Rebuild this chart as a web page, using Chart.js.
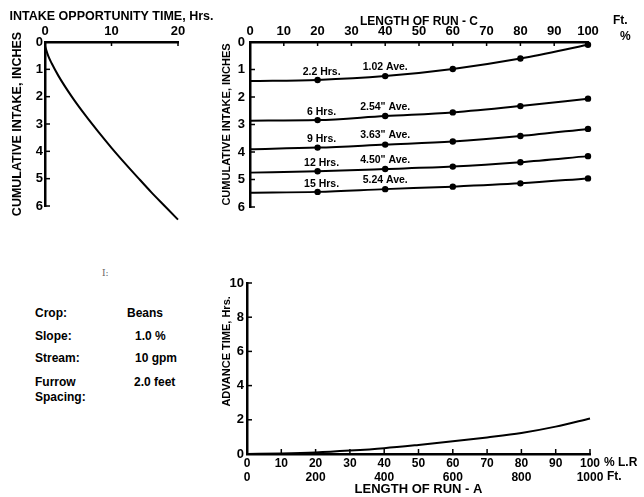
<!DOCTYPE html>
<html>
<head>
<meta charset="utf-8">
<script src="https://cdn.jsdelivr.net/npm/chart.js@4.4.0/dist/chart.umd.min.js"></script>
<style>
body { margin: 0; background: #fff; width: 644px; height: 497px; position: relative; overflow: hidden;
       font-family: "Liberation Sans", Arial, sans-serif; font-weight: bold; color: #000; }
canvas { position: absolute; }
.t { position: absolute; font-size: 12px; white-space: nowrap; line-height: 1; }
</style>
</head>
<body>
<canvas id="intakeCurve" width="220" height="240" style="left:0;top:0"></canvas>
<canvas id="intakeRun" width="424" height="240" style="left:220px;top:0"></canvas>
<canvas id="advance" width="444" height="232" style="left:200px;top:265px"></canvas>

<div class="t" style="left:102px;top:268px;font:9px 'DejaVu Serif',serif;color:#666">I:</div>
<div class="t" style="left:35px;top:307px">Crop:</div>
<div class="t" style="left:127px;top:307px">Beans</div>
<div class="t" style="left:35px;top:330px">Slope:</div>
<div class="t" style="left:135px;top:330px">1.0 %</div>
<div class="t" style="left:35px;top:352px">Stream:</div>
<div class="t" style="left:135px;top:352px">10 gpm</div>
<div class="t" style="left:35px;top:376px">Furrow</div>
<div class="t" style="left:134px;top:376px">2.0 feet</div>
<div class="t" style="left:35px;top:391px">Spacing:</div>

<script>
// intake curve (top left)
var intakeHours = [0, 0.5, 1, 2, 4, 6, 8, 10, 12, 14, 16, 18, 20];
var intakeInches = [0.15, 0.52, 0.78, 1.23, 1.99, 2.66, 3.28, 3.87, 4.43, 4.97, 5.5, 6.0, 6.5];

// intake along the run (top right)
var runPercent = [0, 20, 40, 60, 80, 100];
var setHours = ['2.2 Hrs.', '6 Hrs.', '9 Hrs.', '12 Hrs.', '15 Hrs.'];
var setAverages = ['1.02 Ave.', '2.54" Ave.', '3.63" Ave.', '4.50" Ave.', '5.24 Ave.'];
var intake22 = [1.42, 1.38, 1.24, 0.98, 0.6, 0.1];
var intake6 = [2.86, 2.84, 2.69, 2.56, 2.33, 2.06];
var intake9 = [3.90, 3.84, 3.73, 3.62, 3.42, 3.16];
var intake12 = [4.75, 4.70, 4.62, 4.53, 4.37, 4.15];
var intake15 = [5.48, 5.45, 5.35, 5.26, 5.14, 4.96];

// advance curve (bottom)
var advancePercent = [0, 10, 20, 30, 40, 50, 60, 70, 80, 90, 100];
var advanceHours = [0, 0.03, 0.09, 0.2, 0.34, 0.53, 0.74, 0.97, 1.23, 1.6, 2.08];
var runFeet = ['0', '', '200', '', '400', '', '600', '', '800', '', '1000'];

var FONT = '"Liberation Sans", Arial, sans-serif';

function pairs(xs, ys) {
    return xs.map(function (x, i) { return { x: x, y: ys[i] }; });
}

function fixSize(size) {
    return function (scale) {
        if (scale.isHorizontal()) scale.height = size; else scale.width = size;
    };
}

// short tick marks pointing into the plot
var innerTicks = {
    id: 'innerTicks',
    afterDraw: function (chart) {
        var ctx = chart.ctx, area = chart.chartArea;
        ctx.save();
        ctx.strokeStyle = '#000';
        ctx.lineWidth = 1.5;
        Object.values(chart.scales).forEach(function (s) {
            s.ticks.forEach(function (t) {
                var p = s.getPixelForValue(t.value);
                ctx.beginPath();
                if (s.isHorizontal()) {
                    var y0 = s.position === 'top' ? area.top : area.bottom;
                    var d = s.position === 'top' ? 4 : -5;
                    ctx.moveTo(p, y0);
                    ctx.lineTo(p, y0 + d);
                } else {
                    ctx.moveTo(area.left, p);
                    ctx.lineTo(area.left + 5, p);
                }
                ctx.stroke();
            });
        });
        ctx.restore();
    }
};

var axisBorder = { display: true, color: '#000', width: 2.5 };
var noGrid = { display: true, drawOnChartArea: false, drawTicks: false };
var tickFont = { family: FONT, size: 13, weight: 'bold' };
var titleFont = { family: FONT, size: 12, weight: 'bold' };

// ---- top left ----
var curveTitle = {
    id: 'curveTitle',
    afterDraw: function (chart) {
        var ctx = chart.ctx, area = chart.chartArea;
        ctx.save();
        ctx.fillStyle = '#000';
        ctx.font = 'bold 12.5px ' + FONT;
        ctx.textAlign = 'center';
        ctx.textBaseline = 'middle';
        ctx.fillText('INTAKE OPPORTUNITY TIME, Hrs.', (area.left + area.right) / 2, 17);
        ctx.restore();
    }
};

new Chart(document.getElementById('intakeCurve'), {
    type: 'line',
    data: {
        datasets: [{
            data: pairs(intakeHours, intakeInches),
            borderColor: '#000',
            borderWidth: 2,
            pointRadius: 0,
            cubicInterpolationMode: 'monotone',
            clip: false
        }]
    },
    options: {
        responsive: false,
        animation: false,
        layout: { padding: { left: 0, top: 0, right: 42, bottom: 34 } },
        plugins: { legend: { display: false }, tooltip: { enabled: false } },
        scales: {
            x: {
                type: 'linear', position: 'top', min: 0, max: 20,
                ticks: { stepSize: 10, color: '#000', font: tickFont, padding: 3, maxRotation: 0 },
                grid: noGrid, border: axisBorder,
                afterFit: fixSize(42)
            },
            y: {
                type: 'linear', reverse: true, min: 0, max: 6,
                ticks: { stepSize: 1, color: '#000', font: tickFont, padding: 2 },
                grid: noGrid, border: axisBorder,
                title: { display: true, text: 'CUMULATIVE INTAKE, INCHES', color: '#000', font: { family: FONT, size: 12.5, weight: 'bold' }, padding: { top: 10, bottom: 0 } },
                afterFit: fixSize(45)
            }
        }
    },
    plugins: [innerTicks, curveTitle]
});

// ---- top right ----
var setLabels = {
    id: 'setLabels',
    afterDraw: function (chart) {
        var ctx = chart.ctx;
        ctx.save();
        ctx.fillStyle = '#000';
        ctx.font = 'bold 10.5px ' + FONT;
        ctx.textAlign = 'center';
        ctx.textBaseline = 'bottom';
        chart.data.datasets.forEach(function (ds, i) {
            var pts = chart.getDatasetMeta(i).data;
            ctx.fillText(setHours[i], pts[1].x + 4, pts[1].y - 3);
            ctx.fillText(setAverages[i], pts[2].x, pts[2].y - 4);
        });
        var xs = chart.scales.x, area = chart.chartArea;
        ctx.textAlign = 'left';
        ctx.textBaseline = 'middle';
        ctx.font = 'bold 12px ' + FONT;
        ctx.fillText('%', xs.getPixelForValue(100) + 32, area.top - 5);
        ctx.fillText('Ft.', xs.getPixelForValue(100) + 25, area.top - 21);
        ctx.restore();
    }
};

var setColumns = [intake22, intake6, intake9, intake12, intake15];
new Chart(document.getElementById('intakeRun'), {
    type: 'line',
    data: {
        datasets: setColumns.map(function (vals) {
            return {
                data: pairs(runPercent, vals),
                borderColor: '#000',
                backgroundColor: '#000',
                borderWidth: 2,
                pointRadius: [0, 2.2, 2.2, 2.2, 2.2, 2.2],
                cubicInterpolationMode: 'monotone',
                clip: false
            };
        })
    },
    options: {
        responsive: false,
        animation: false,
        layout: { padding: { left: 0, top: 0, right: 56, bottom: 33 } },
        plugins: { legend: { display: false }, tooltip: { enabled: false } },
        scales: {
            x: {
                type: 'linear', position: 'top', min: 0, max: 100,
                ticks: { stepSize: 10, color: '#000', font: tickFont, padding: 3, maxRotation: 0, autoSkip: false },
                grid: noGrid, border: axisBorder,
                title: { display: true, text: 'LENGTH OF RUN - C', color: '#000', font: titleFont, padding: { top: 14, bottom: 0 } },
                afterFit: fixSize(42)
            },
            y: {
                type: 'linear', reverse: true, min: 0, max: 6,
                ticks: { stepSize: 1, color: '#000', font: tickFont, padding: 5 },
                grid: noGrid, border: axisBorder,
                title: { display: true, text: 'CUMULATIVE INTAKE, INCHES', color: '#000', font: { family: FONT, size: 11, weight: 'bold' }, padding: { top: 0, bottom: 0 } },
                afterFit: fixSize(30)
            }
        }
    },
    plugins: [innerTicks, setLabels]
});

// ---- bottom ----
var advanceText = {
    id: 'advanceText',
    afterDraw: function (chart) {
        var ctx = chart.ctx, xs = chart.scales.x, ys = chart.scales.y, area = chart.chartArea;
        ctx.save();
        ctx.fillStyle = '#000';
        ctx.font = 'bold 12px ' + FONT;
        ctx.textAlign = 'left';
        ctx.textBaseline = 'middle';
        ctx.fillText('% L.R', xs.getPixelForValue(100) + 14, area.bottom + 9);
        ctx.fillText('Ft.', xs.getPixelForValue(100) + 17, area.bottom + 23);
        ctx.translate(area.left - 20, ys.getPixelForValue(6));
        ctx.rotate(-Math.PI / 2);
        ctx.textAlign = 'center';
        ctx.font = 'bold 11px ' + FONT;
        ctx.fillText('ADVANCE TIME, Hrs.', 0, 0);
        ctx.restore();
    }
};

new Chart(document.getElementById('advance'), {
    type: 'line',
    data: {
        datasets: [{
            data: pairs(advancePercent, advanceHours),
            borderColor: '#000',
            borderWidth: 2,
            pointRadius: 0,
            cubicInterpolationMode: 'monotone',
            clip: false
        }]
    },
    options: {
        responsive: false,
        animation: false,
        layout: { padding: { left: 0, top: 18, right: 54, bottom: 0 } },
        plugins: { legend: { display: false }, tooltip: { enabled: false } },
        scales: {
            x: {
                type: 'linear', position: 'bottom', min: 0, max: 100,
                ticks: {
                    stepSize: 10, color: '#000', font: { family: FONT, size: 12, weight: 'bold', lineHeight: 1.15 },
                    padding: 3, maxRotation: 0, autoSkip: false,
                    callback: function (v, i) { return [String(v), runFeet[i]]; }
                },
                grid: noGrid, border: axisBorder,
                title: { display: true, text: 'LENGTH OF RUN - A', color: '#000', font: { family: FONT, size: 13, weight: 'bold' }, padding: { top: 0, bottom: 0 } },
                afterFit: fixSize(43)
            },
            y: {
                type: 'linear', min: 0, max: 10,
                ticks: { stepSize: 2, color: '#000', font: tickFont, padding: 3 },
                grid: noGrid, border: axisBorder,
                afterFit: fixSize(47)
            }
        }
    },
    plugins: [innerTicks, advanceText]
});
</script>
</body>
</html>
